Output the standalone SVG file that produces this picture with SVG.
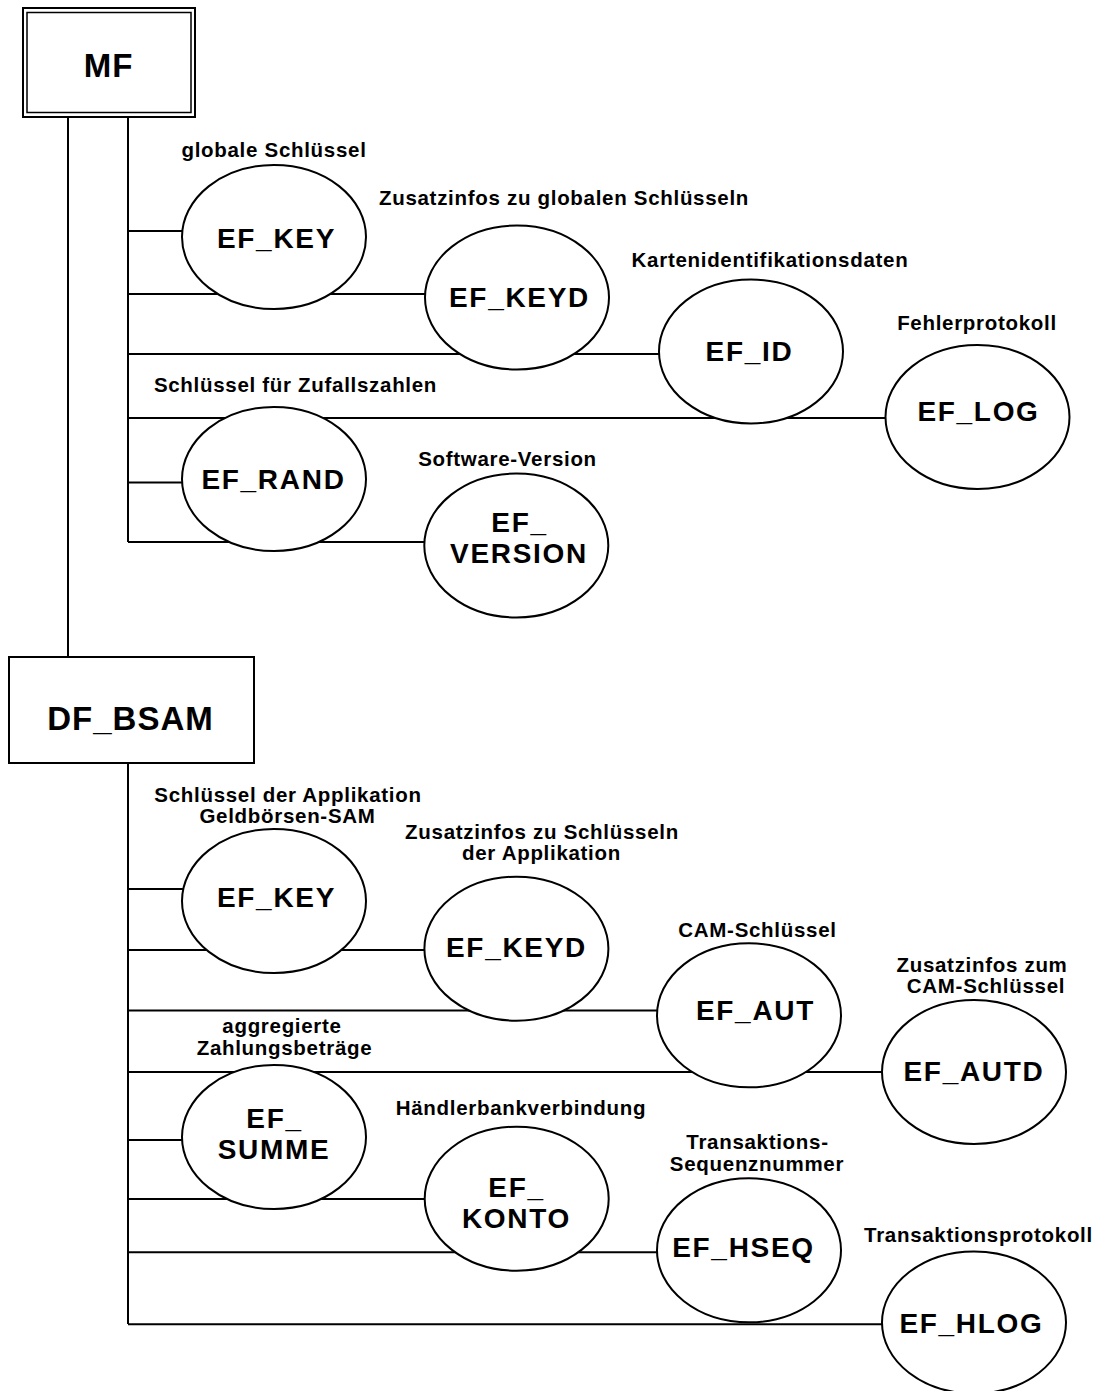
<svg xmlns="http://www.w3.org/2000/svg" width="1101" height="1391" viewBox="0 0 1101 1391">
<style>
.bg{fill:#fff}
.ln{stroke:#000;stroke-width:2;fill:none}
.box{fill:#fff;stroke:#000;stroke-width:2}
.el{fill:#fff;stroke:#000;stroke-width:2}
.bt{font-family:"Liberation Sans",Arial,sans-serif;font-weight:bold;font-size:33px;letter-spacing:1px;text-anchor:middle;fill:#000}
.nt{font-family:"Liberation Sans",Arial,sans-serif;font-weight:bold;font-size:28px;letter-spacing:1.7px;text-anchor:middle;fill:#000}
.lt{font-family:"Liberation Sans",Arial,sans-serif;font-weight:bold;font-size:20.5px;letter-spacing:0.7px;text-anchor:middle;fill:#000}
</style>
<rect class="bg" x="0" y="0" width="1101" height="1391"/>
<g id="connectors">
<path class="ln" d="M68,117V657"/>
<path class="ln" d="M128,117V542"/>
<path class="ln" d="M128,231H183"/>
<path class="ln" d="M128,294H426"/>
<path class="ln" d="M128,354H660"/>
<path class="ln" d="M128,418H886"/>
<path class="ln" d="M128,482.5H183"/>
<path class="ln" d="M128,542H426"/>
<path class="ln" d="M128,763V1324"/>
<path class="ln" d="M128,889H183"/>
<path class="ln" d="M128,950H426"/>
<path class="ln" d="M128,1010.5H658"/>
<path class="ln" d="M128,1072H883"/>
<path class="ln" d="M128,1140H183"/>
<path class="ln" d="M128,1199H426"/>
<path class="ln" d="M128,1252.3H658"/>
<path class="ln" d="M128,1324.3H883"/>
</g>
<g id="MF">
<rect class="box" x="23" y="8" width="172" height="109" stroke-width="1.8"/>
<rect x="27" y="12.5" width="164" height="100" fill="none" stroke="#000" stroke-width="1.5"/>
<text class="bt" x="108.5" y="76.7">MF</text>
</g>
<g id="DF_BSAM">
<rect class="box" x="9" y="657" width="245" height="106"/>
<text class="bt" x="130.5" y="730">DF_BSAM</text>
</g>
<g id="EF_KEY_1">
<text class="lt" x="274" y="157.3">globale Schlüssel</text>
<ellipse class="el" cx="274" cy="237" rx="92" ry="72"/>
<text class="nt" x="276.5" y="248.3">EF_KEY</text>
</g>
<g id="EF_KEYD_1">
<text class="lt" x="564" y="204.5">Zusatzinfos zu globalen Schlüsseln</text>
<ellipse class="el" cx="517" cy="297.5" rx="92" ry="72"/>
<text class="nt" x="519.5" y="307.3">EF_KEYD</text>
</g>
<g id="EF_ID">
<text class="lt" x="770" y="267">Kartenidentifikationsdaten</text>
<ellipse class="el" cx="751" cy="351.5" rx="92" ry="72"/>
<text class="nt" x="749.5" y="360.7">EF_ID</text>
</g>
<g id="EF_LOG">
<text class="lt" x="977" y="330">Fehlerprotokoll</text>
<ellipse class="el" cx="977.5" cy="417" rx="92" ry="72"/>
<text class="nt" x="978.5" y="420.7">EF_LOG</text>
</g>
<g id="EF_RAND">
<text class="lt" x="295.5" y="391.7">Schlüssel für Zufallszahlen</text>
<ellipse class="el" cx="274" cy="479" rx="92" ry="72"/>
<text class="nt" x="273.5" y="489">EF_RAND</text>
</g>
<g id="EF_VERSION">
<text class="lt" x="507.5" y="465.7">Software-Version</text>
<ellipse class="el" cx="516.3" cy="545.5" rx="92" ry="72"/>
<text class="nt" x="519.5" y="531.7">EF_</text>
<text class="nt" x="519" y="562.7">VERSION</text>
</g>
<g id="EF_KEY_2">
<text class="lt" x="288" y="801.7">Schlüssel der Applikation</text>
<text class="lt" x="287.5" y="823.3">Geldbörsen-SAM</text>
<ellipse class="el" cx="274" cy="901" rx="92" ry="72"/>
<text class="nt" x="276.5" y="906.7">EF_KEY</text>
</g>
<g id="EF_KEYD_2">
<text class="lt" x="542" y="839.3">Zusatzinfos zu Schlüsseln</text>
<text class="lt" x="541.5" y="860">der Applikation</text>
<ellipse class="el" cx="516.4" cy="948.7" rx="92" ry="72"/>
<text class="nt" x="516.5" y="957.3">EF_KEYD</text>
</g>
<g id="EF_AUT">
<text class="lt" x="757.5" y="937.3">CAM-Schlüssel</text>
<ellipse class="el" cx="749" cy="1015.3" rx="92" ry="72"/>
<text class="nt" x="755.5" y="1020">EF_AUT</text>
</g>
<g id="EF_AUTD">
<text class="lt" x="982" y="971.7">Zusatzinfos zum</text>
<text class="lt" x="986" y="993.3">CAM-Schlüssel</text>
<ellipse class="el" cx="974" cy="1072" rx="92" ry="72"/>
<text class="nt" x="974" y="1081">EF_AUTD</text>
</g>
<g id="EF_SUMME">
<text class="lt" x="282" y="1033.3">aggregierte</text>
<text class="lt" x="284.5" y="1055">Zahlungsbeträge</text>
<ellipse class="el" cx="274" cy="1137" rx="92" ry="72"/>
<text class="nt" x="274.5" y="1127.7">EF_</text>
<text class="nt" x="274" y="1158.7">SUMME</text>
</g>
<g id="EF_KONTO">
<text class="lt" x="521" y="1115">Händlerbankverbindung</text>
<ellipse class="el" cx="516.7" cy="1198.7" rx="92" ry="72"/>
<text class="nt" x="516.5" y="1197.3">EF_</text>
<text class="nt" x="516.5" y="1228.3">KONTO</text>
</g>
<g id="EF_HSEQ">
<text class="lt" x="757.5" y="1148.5">Transaktions-</text>
<text class="lt" x="757" y="1170.5">Sequenznummer</text>
<ellipse class="el" cx="749" cy="1250.3" rx="92" ry="72"/>
<text class="nt" x="743.5" y="1256.7">EF_HSEQ</text>
</g>
<g id="EF_HLOG">
<text class="lt" x="978.5" y="1241.7">Transaktionsprotokoll</text>
<ellipse class="el" cx="974" cy="1322.5" rx="92" ry="71"/>
<text class="nt" x="971.5" y="1333.3">EF_HLOG</text>
</g>
</svg>
